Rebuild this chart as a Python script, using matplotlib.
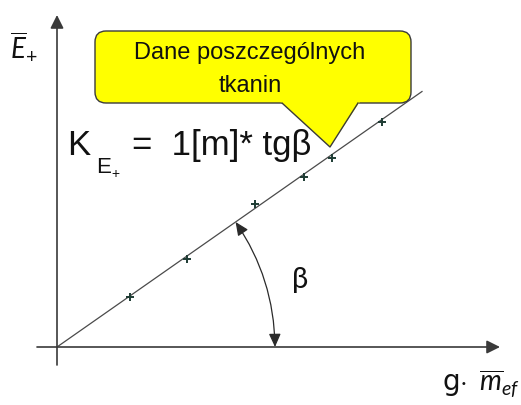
import numpy as np
import matplotlib
matplotlib.use('Agg')
import matplotlib.pyplot as plt
from matplotlib.patches import FancyBboxPatch, Polygon, FancyArrowPatch

plt.rcParams['mathtext.fontset'] = 'custom'
plt.rcParams['mathtext.rm'] = 'Lato'
plt.rcParams['mathtext.it'] = 'Lato:italic'

# measured points (x = g*m_ef, y = E+), arbitrary units
x_pts = [73, 130, 198, 247, 275, 325]
y_pts = [50, 88, 143, 170, 189, 225]
slope = 0.70  # tg(beta)
x_line = [0, 365]

box_lines = ['Dane poszczególnych', 'tkanin']

axis_col = '#3a3a3a'
txt_col = '#111111'

fig = plt.figure(figsize=(5.21, 4.05), dpi=100)
ax = fig.add_axes([0, 0, 1, 1])
ax.set_xlim(-57, 464)
ax.set_ylim(-58, 347)
ax.axis('off')

# axes with arrows
ax.annotate('', xy=(0, 332), xytext=(0, -18),
            arrowprops=dict(arrowstyle='-|>,head_length=0.4,head_width=0.2',
                            mutation_scale=20, color=axis_col, lw=1.2,
                            shrinkA=0, shrinkB=0))
ax.annotate('', xy=(443, 0), xytext=(-20, 0),
            arrowprops=dict(arrowstyle='-|>,head_length=0.4,head_width=0.2',
                            mutation_scale=20, color=axis_col, lw=1.2,
                            shrinkA=0, shrinkB=0))

# fitted line and points
ax.plot(x_line, [slope * v for v in x_line], color='#4a4a4a', lw=0.9, zorder=2)
ax.plot(x_pts, y_pts, ls='none', marker='+', ms=6, mew=1.4,
        color='#1d3b33', zorder=3)

# angle arc
beta = np.arctan(slope)
r = 218
arc = FancyArrowPatch((r, 0), (r * np.cos(beta), r * np.sin(beta)),
                      connectionstyle='arc3,rad=0.15',
                      arrowstyle='<|-|>,head_length=0.4,head_width=0.18',
                      mutation_scale=20, color='#2a2a2a', lw=0.9,
                      shrinkA=0, shrinkB=0)
ax.add_patch(arc)
ax.text(243, 67, 'β', fontsize=21, family='Lato', color=txt_col,
        ha='center', va='center')

# callout
box = FancyBboxPatch((38, 244), 316, 72,
                     boxstyle='round,pad=0,rounding_size=11',
                     fc='#ffff00', ec='#3a3a3a', lw=1.0, zorder=4)
ax.add_patch(box)
ax.add_patch(Polygon([(223, 245.5), (303, 245.5), (273, 200)],
                     closed=True, fc='#ffff00', ec='none', zorder=5))
ax.plot([225, 273, 301], [244, 200, 244], color='#3a3a3a', lw=1.0, zorder=6)
ax.text(193, 294, box_lines[0], fontsize=17, family='Liberation Sans',
        color=txt_col, ha='center', va='center', zorder=7)
ax.text(193, 261, box_lines[1], fontsize=17, family='Liberation Sans',
        color=txt_col, ha='center', va='center', zorder=7)

# formula K_E+ = 1[m]* tg beta
ax.text(10, 192, 'K', fontsize=25, family='Liberation Sans',
        color=txt_col, va='baseline')
ax.text(39, 174, 'E', fontsize=16, family='Liberation Sans',
        color=txt_col, va='baseline')
ax.text(54, 169, '+', fontsize=10, family='Liberation Sans',
        color=txt_col, va='baseline')
ax.text(75, 192, '=  1[m]* tgβ', fontsize=25, family='Liberation Sans',
        color=txt_col, va='baseline')

# axis labels
ax.text(-33, 300, r'$\overline{E}_{+}$', fontsize=20, color=txt_col,
        ha='center', va='center')
ax.text(385, -45, r'g$\cdot\;\;\overline{m}_{ef}$', fontsize=20,
        color=txt_col, va='baseline')

fig.savefig('out.png', dpi=100)
